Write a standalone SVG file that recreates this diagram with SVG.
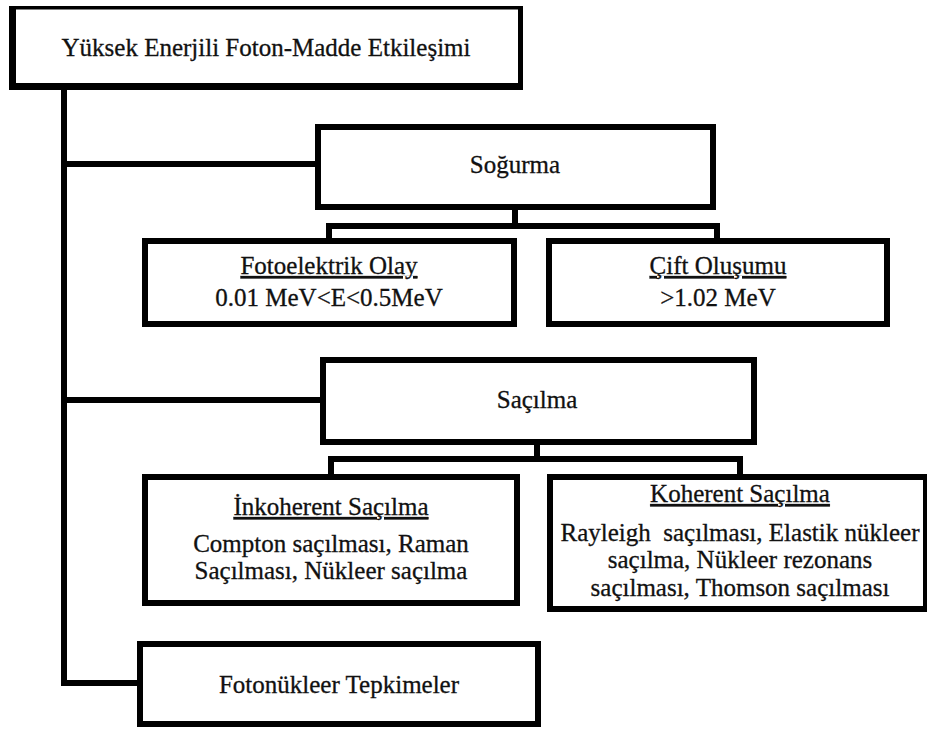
<svg xmlns="http://www.w3.org/2000/svg" width="927" height="729" viewBox="0 0 927 729">
<style>
  .box { fill: #ffffff; stroke: #000000; stroke-width: 6; }
  .frame { fill: #000000; }
  .inner { fill: #ffffff; }
  .conn { fill: none; stroke: #000000; stroke-width: 6; stroke-linejoin: miter; }
  text { font-family: 'Liberation Serif', 'Times New Roman', serif; font-size: 25px; fill: #111111; stroke: #111111; stroke-width: 0.3; text-anchor: middle; }
  .u { text-decoration: underline; }
</style>
<rect x="0" y="0" width="927" height="729" fill="#ffffff"/>
<g id="connectors">
  <path class="conn" d="M64 88 V683 H140"/>
  <path class="conn" d="M64 164 H318"/>
  <path class="conn" d="M64 400 H323"/>
  <path class="conn" d="M515 208 V226"/>
  <path class="conn" d="M329 241 V226 H717 V241"/>
  <path class="conn" d="M537 444 V459"/>
  <path class="conn" d="M331 476 V459 H740 V476"/>
</g>
<g id="root">
  <rect class="frame" x="9" y="6" width="514" height="84"/>
  <rect class="inner" x="16" y="9.5" width="502" height="73.5"/>
  <text x="266" y="56">Yüksek Enerjili Foton-Madde Etkileşimi</text>
</g>
<g id="sogurma">
  <rect class="box" x="318" y="127" width="395" height="80"/>
  <text x="515" y="173">Soğurma</text>
</g>
<g id="fotoelektrik">
  <rect class="box" x="145" y="241" width="369" height="83"/>
  <text x="329" y="274" class="u">Fotoelektrik Olay</text>
  <text x="329" y="306">0.01 MeV&lt;E&lt;0.5MeV</text>
</g>
<g id="cift">
  <rect class="box" x="549" y="241" width="338" height="83"/>
  <text x="718" y="274" class="u">Çift Oluşumu</text>
  <text x="718" y="306">&gt;1.02 MeV</text>
</g>
<g id="sacilma">
  <rect class="box" x="323" y="360" width="431" height="82"/>
  <text x="537" y="408">Saçılma</text>
</g>
<g id="inkoherent">
  <rect class="box" x="145" y="477" width="372" height="126"/>
  <text x="331" y="515" class="u">İnkoherent Saçılma</text>
  <text x="331" y="552">Compton saçılması, Raman</text>
  <text x="331" y="579">Saçılması, Nükleer saçılma</text>
</g>
<g id="koherent">
  <rect class="box" x="550" y="477" width="376" height="132"/>
  <text x="740" y="502" class="u">Koherent Saçılma</text>
  <text x="740" y="541" xml:space="preserve">Rayleigh  saçılması, Elastik nükleer</text>
  <text x="740" y="568">saçılma, Nükleer rezonans</text>
  <text x="740" y="596">saçılması, Thomson saçılması</text>
</g>
<g id="fotonukleer">
  <rect class="box" x="140" y="644" width="398" height="80"/>
  <text x="339" y="693">Fotonükleer Tepkimeler</text>
</g>
</svg>
